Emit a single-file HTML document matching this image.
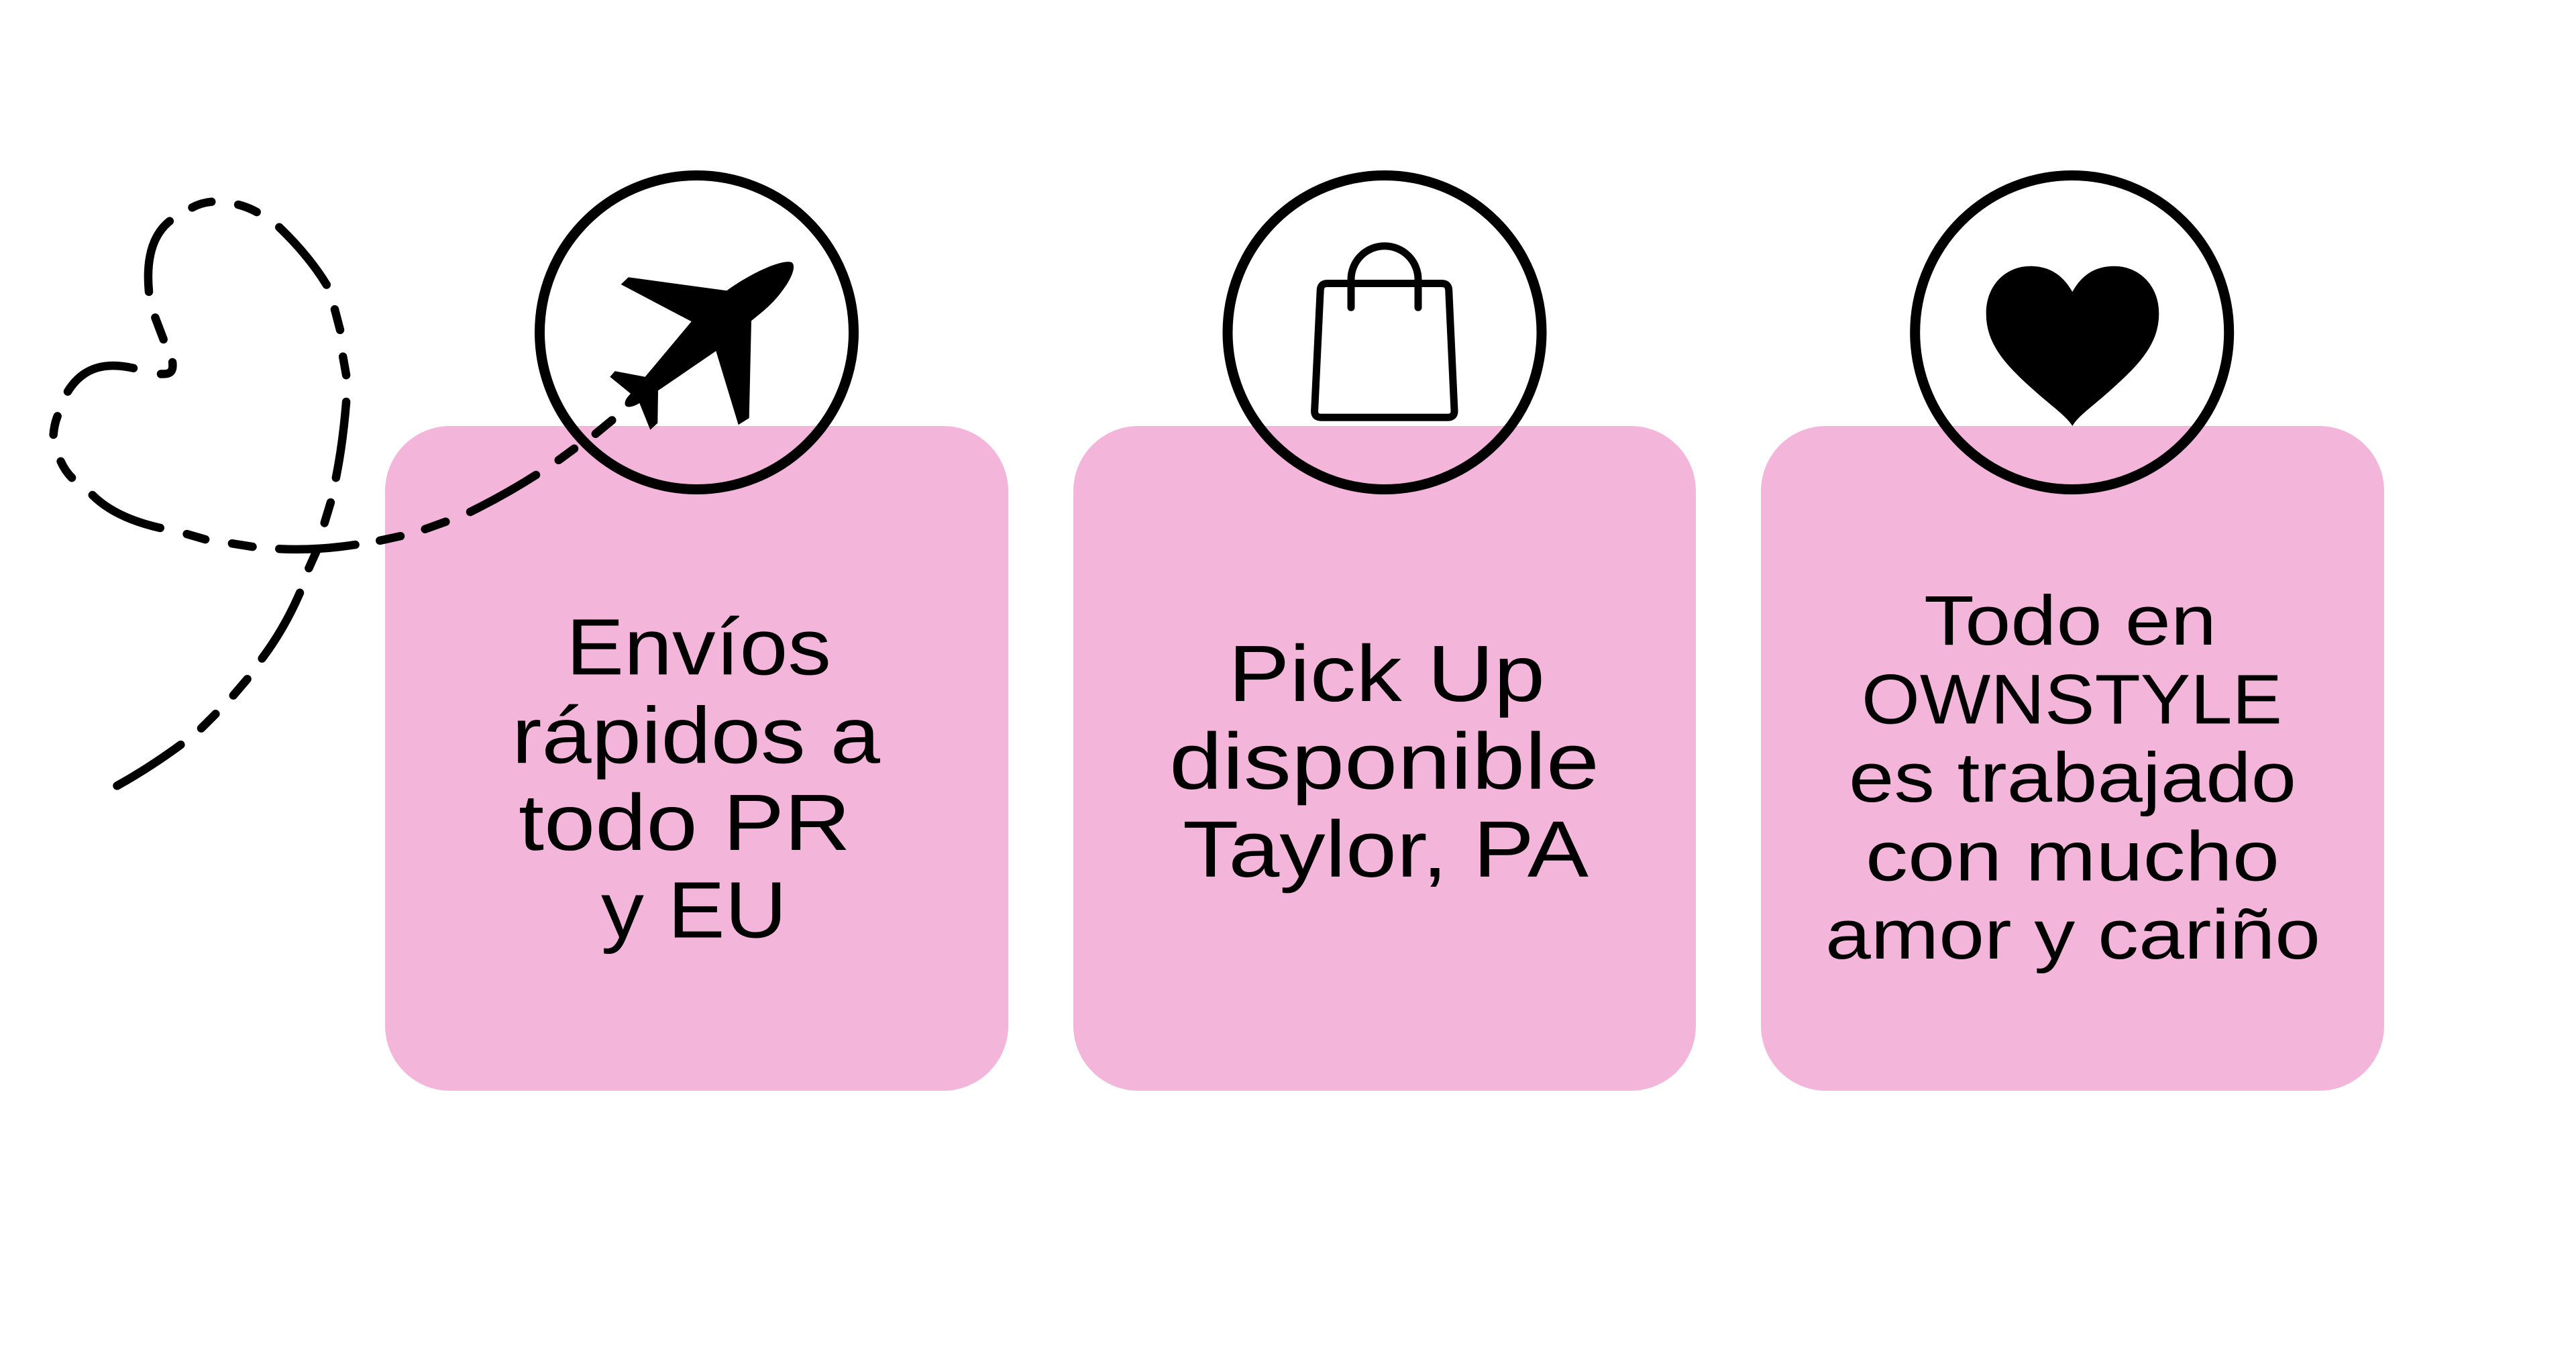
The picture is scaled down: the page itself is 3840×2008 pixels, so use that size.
<!DOCTYPE html>
<html>
<head>
<meta charset="utf-8">
<style>
  html, body { margin: 0; padding: 0; background: #ffffff; }
  body { width: 3840px; height: 2008px; overflow: hidden; }
  svg { display: block; }
  text { font-family: "Liberation Sans", "DejaVu Sans", sans-serif; fill: #000; }
</style>
</head>
<body>
<svg width="3840" height="2008" viewBox="0 0 3840 2008" xmlns="http://www.w3.org/2000/svg">
  <rect x="0" y="0" width="3840" height="2008" fill="#ffffff"/>

  <!-- pink boxes -->
  <rect x="574" y="635" width="929" height="991" rx="97" ry="97" fill="#f4b5da"/>
  <rect x="1600" y="635" width="928" height="991" rx="97" ry="97" fill="#f4b5da"/>
  <rect x="2625" y="635" width="929" height="991" rx="97" ry="97" fill="#f4b5da"/>

  <!-- circles -->
  <circle cx="1038.5" cy="495.5" r="234" fill="none" stroke="#000" stroke-width="15"/>
  <circle cx="2064" cy="495.5" r="234" fill="none" stroke="#000" stroke-width="15"/>
  <circle cx="3088.7" cy="495.5" r="234" fill="none" stroke="#000" stroke-width="15"/>

  <!-- airplane -->
  <path fill="#000" d="M925.7 424 L936.7 413.3 L1083.3 433.3 C1115 410 1160 388 1178 390.5 C1188 392 1183 412 1165 435 C1150 455 1135 466 1120 478.3 L1116.7 623.3 L1100.7 633.3 L1067.3 523.3 L981 582.3 L980.3 630.7 L969.3 640.7 L953.3 601 C945 606 935 609 932 604 C930 598 935 592 940 586.7 L909.3 561.7 L916.7 553.3 L961.7 561.7 L1030.7 479.3 Z"/>

  <!-- shopping bag -->
  <path fill="none" stroke="#000" stroke-width="11" stroke-linejoin="round" d="M1978.7 422.5 L2149.2 422.5 Q2159.2 422.5 2159.7 432.5 L2168 612.2 Q2168.3 622.2 2158.3 622.2 L1969.2 622.2 Q1959.2 622.2 1959.6 612.2 L1968.2 432.5 Q1968.7 422.5 1978.7 422.5 Z"/>
  <path fill="none" stroke="#000" stroke-width="11" stroke-linecap="round" d="M2014 458.3 L2014 416.7 A50 50 0 0 1 2114 416.7 L2114 458.3"/>

  <!-- heart -->
  <path fill="#000" d="M3089.3 435 C3075 410 3055 396.7 3026.7 396.7 C2990 396.7 2960.7 425 2960.7 467 C2960.7 510 2985 540 3030 580 C3060 607 3080 620 3089.3 635 C3098 620 3118 607 3148 580 C3193 540 3218.3 510 3218.3 467 C3218.3 425 3188 396.7 3151.7 396.7 C3123 396.7 3103 410 3089.3 435 Z"/>

  <!-- dashed heart trail -->
  <g fill="none" stroke="#000" stroke-width="12.5" stroke-linecap="round" stroke-linejoin="round">
    <path d="M174.5 1171.4 Q222 1145 269.4 1110.2"/>
    <path d="M300 1085.7 L321.4 1064.3"/>
    <path d="M347.8 1036.7 L368.6 1012.3"/>
    <path d="M390.6 981.6 Q424 937 447 883.7"/>
    <path d="M460.4 847 L471.4 822.4"/>
    <path d="M483.7 779.6 L492.9 749"/>
    <path d="M500.8 712.2 Q511 662 516.1 599"/>
    <path d="M516.1 559.2 L511.2 531.6"/>
    <path d="M507 491.8 L499 461.2"/>
    <path d="M486.8 424.5 Q460.7 381.6 416.3 338.8"/>
    <path d="M382.7 316.1 Q370 309 355.1 305.1"/>
    <path d="M315.3 300.8 Q300 302 286.5 309.4"/>
    <path d="M252.9 329.6 Q215 360 222 435"/>
    <path d="M231.4 473.5 L243.7 505.9"/>
    <path d="M257.1 540 C259 556 252 558 240 557.5"/>
    <path d="M199 548.8 C160 540 125 545 101 583.7"/>
    <path d="M85.7 620.4 Q81 632 79.6 648"/>
    <path d="M90.6 687.8 Q97 702 107.1 712.2"/>
    <path d="M137.8 738 Q172 772 238.8 787"/>
    <path d="M278.6 796.1 L306.1 804.1"/>
    <path d="M345.9 810.2 L376.5 815.1"/>
    <path d="M416.3 818.2 Q470 821 529.6 812"/>
    <path d="M566.3 805.9 L597 799.2"/>
    <path d="M633.7 788.8 L664.3 777.8"/>
    <path d="M701 763.1 Q752 738 799 708"/>
    <path d="M832.7 685.9 L856 668.8"/>
    <path d="M887.8 646.7 L912.3 626.5"/>
  </g>

  <!-- box 1 text -->
  <g font-size="119">
    <text x="844" y="1005.4" textLength="395" lengthAdjust="spacingAndGlyphs">Envíos</text>
    <text x="763" y="1137.2" textLength="549" lengthAdjust="spacingAndGlyphs">rápidos a</text>
    <text x="773" y="1267" textLength="495" lengthAdjust="spacingAndGlyphs">todo PR</text>
    <text x="896" y="1397.4" textLength="277" lengthAdjust="spacingAndGlyphs">y EU</text>
  </g>

  <!-- box 2 text -->
  <g font-size="119">
    <text x="1831" y="1045" textLength="472" lengthAdjust="spacingAndGlyphs">Pick Up</text>
    <text x="1743" y="1175.7" textLength="641" lengthAdjust="spacingAndGlyphs">disponible</text>
    <text x="1763" y="1306.7" textLength="605" lengthAdjust="spacingAndGlyphs">Taylor, PA</text>
  </g>

  <!-- box 3 text -->
  <g font-size="105">
    <text x="2868" y="961" textLength="436" lengthAdjust="spacingAndGlyphs">Todo en</text>
    <text x="2775" y="1078.6" textLength="627" lengthAdjust="spacingAndGlyphs">OWNSTYLE</text>
    <text x="2756" y="1194.9" textLength="667" lengthAdjust="spacingAndGlyphs">es trabajado</text>
    <text x="2781" y="1312.4" textLength="617" lengthAdjust="spacingAndGlyphs">con mucho</text>
    <text x="2721" y="1428.8" textLength="738" lengthAdjust="spacingAndGlyphs">amor y cariño</text>
  </g>
</svg>
</body>
</html>
